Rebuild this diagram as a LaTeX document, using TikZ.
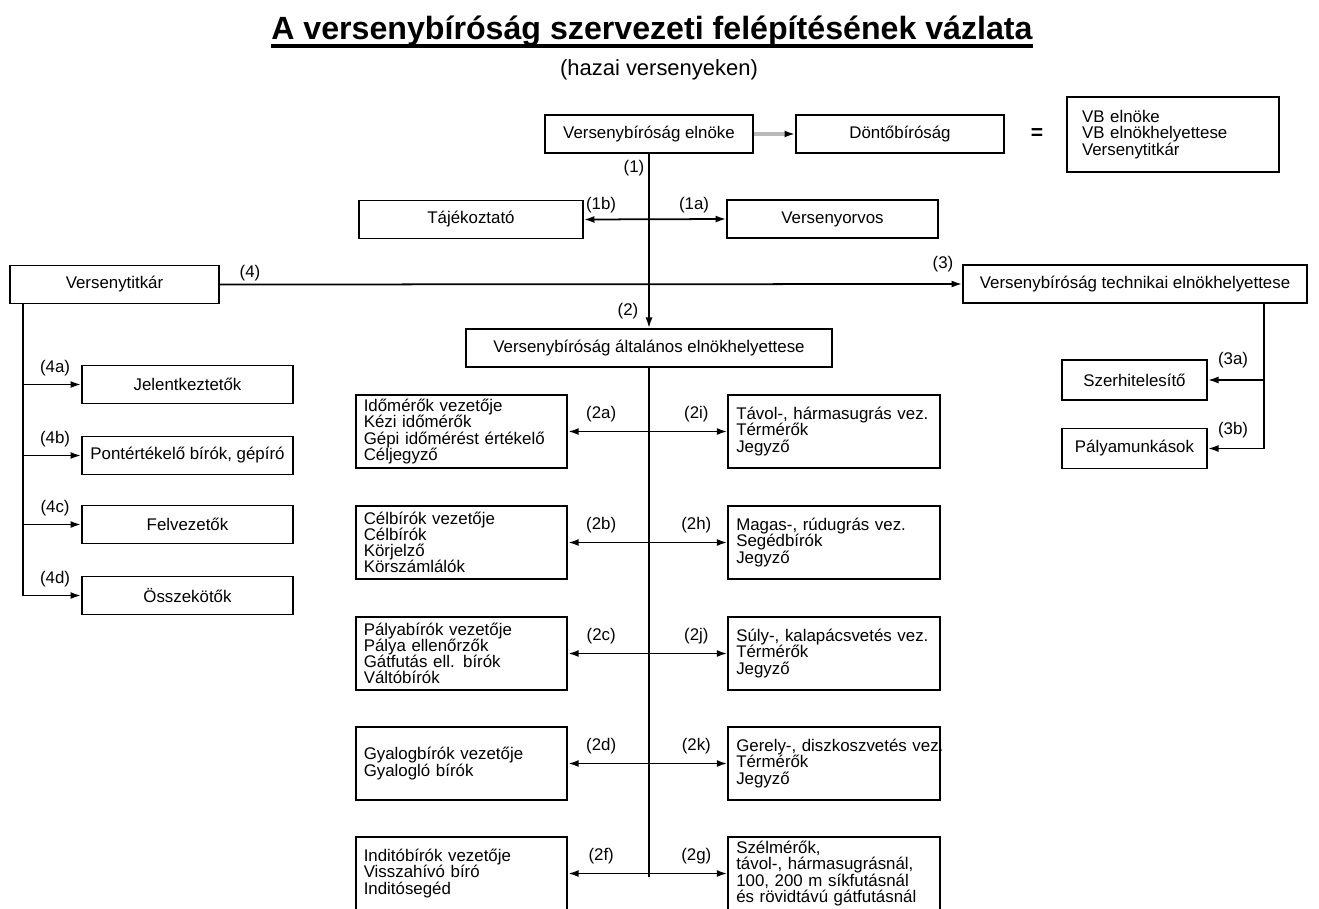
\documentclass[tikz,border=0pt]{standalone}
\usepackage{fontspec}
\setmainfont{Liberation Sans}
\usetikzlibrary{arrows.meta}

\newcommand{\boxfont}{\fontsize{9.6}{9.2}\selectfont}

\tikzset{
    box/.style={draw, line width=1.1pt, minimum height=0.76cm, inner sep=0pt, font=\boxfont},
    listbox/.style={draw, line width=1.1pt, minimum height=1.46cm, text width=3.91cm,
        inner xsep=0.16cm, inner ysep=0pt, align=left, font=\boxfont},
    lab/.style={font=\boxfont, inner sep=0pt},
    conn/.style={line width=1pt},
    arr/.style={conn, -{Latex[length=6pt,width=4pt]}},
    darr/.style={conn, {Latex[length=6pt,width=4pt]}-{Latex[length=6pt,width=4pt]}}
}

\begin{document}
\begin{tikzpicture}[x=0.02cm, y=-0.02cm]
            \useasboundingbox (0,0) rectangle (1319,909);

            % 标题
            \node[font=\fontsize{18.3}{20}\selectfont\bfseries, inner sep=0pt, anchor=base] (cim) at (652,40)
                {A versenybíróság szervezeti felépítésének vázlata};
            \draw[line width=1.8pt] ([yshift=-0.12cm]cim.base west) -- ([yshift=-0.12cm]cim.base east);
            \node[font=\fontsize{12.5}{14}\selectfont, inner sep=0pt, anchor=base] (alcim) at (659,76) {(hazai versenyeken)};

            % 顶层
            \node[box, minimum width=4.16cm] (elnok) at (649,134) {Versenybíróság elnöke};
            \node[box, minimum width=4.16cm] (donto) at (900,134) {Döntőbíróság};
            \node[font=\fontsize{12}{12}\selectfont\bfseries] (egyenlo) at (1037,134) {=};
            \node[box, align=left, text width=3.64cm, inner xsep=0.3cm, minimum height=1.5cm] (vb) at (1173,134.5)
                {VB elnöke\\VB elnökhelyettese\\Versenytitkár};

            % 第二层
            \node[box, minimum width=4.48cm] (tajek) at (471,219.5) {Tájékoztató};
            \node[box, minimum width=4.22cm] (orvos) at (832.5,219) {Versenyorvos};
            \node[box, minimum width=4.18cm] (titkar) at (114.5,284.5) {Versenytitkár};
            \node[box, minimum width=6.88cm] (techn) at (1135,284) {Versenybíróság technikai elnökhelyettese};
            \node[box, minimum width=7.32cm] (altal) at (649,348) {Versenybíróság általános elnökhelyettese};

            % 左侧 (4a)-(4d)
            \node[box, minimum width=4.22cm] (f4a) at (187.5,384.5) {Jelentkeztetők};
            \node[box, minimum width=4.22cm] (f4b) at (187.5,455.5) {Pontértékelő bírók, gépíró};
            \node[box, minimum width=4.22cm] (f4c) at (187.5,524.5) {Felvezetők};
            \node[box, minimum width=4.22cm] (f4d) at (187.5,595.5) {Összekötők};

            % 右侧 (3a)-(3b)
            \node[box, minimum width=2.9cm, minimum height=0.8cm] (szer) at (1134.5,380) {Szerhitelesítő};
            \node[box, minimum width=2.9cm, minimum height=0.8cm] (palya) at (1134.5,448.5) {Pályamunkások};

            % 中间两列
            \node[listbox] (ba) at (461.5,431.5) {Időmérők vezetője\\Kézi időmérők\\Gépi időmérést értékelő\\Céljegyző};
            \node[listbox] (bb) at (461.5,542.5) {Célbírók vezetője\\Célbírók\\Körjelző\\Körszámlálók};
            \node[listbox] (bc) at (461.5,653.5) {Pályabírók vezetője\\Pálya ellenőrzők\\Gátfutás ell. bírók\\Váltóbírók};
            \node[listbox] (bd) at (461.5,763.5) {Gyalogbírók vezetője\\Gyalogló bírók};
            \node[listbox] (bf) at (461.5,873.5) {Inditóbírók vezetője\\Visszahívó bíró\\Inditósegéd};
            \node[listbox] (bi) at (834,431.5) {\mbox{Távol-, hármasugrás vez.}\\Térmérők\\Jegyző};
            \node[listbox] (bh) at (834,542.5) {Magas-, rúdugrás vez.\\Segédbírók\\Jegyző};
            \node[listbox] (bj) at (834,653.5) {Súly-, kalapácsvetés vez.\\Térmérők\\Jegyző};
            \node[listbox] (bk) at (834,763.5) {\mbox{Gerely-, diszkoszvetés vez.}\\Térmérők\\Jegyző};
            \node[listbox] (bg) at (834,873.5) {Szélmérők,\\távol-, hármasugrásnál,\\100, 200 m síkfutásnál\\\mbox{és rövidtávú gátfutásnál}};

            % 连线
            \draw[line width=2pt, gray!55, -{Latex[length=6pt,width=4pt,color=black]}] (elnok.east) -- (donto.west);
            \draw[arr] (elnok.south) -- (altal.north);
            \draw[darr] (tajek.east) -- (orvos.west);
            \draw[arr] (titkar.east) -- (techn.west);
            \coordinate (torzsveg) at (649,877);
            \draw[conn] (altal.south) -- (torzsveg);
            \foreach \l/\r in {a/i,b/h,c/j,d/k,f/g} {
                \draw[darr] (b\l.east) -- (b\r.west);
                \node[lab] at ([xshift=0.66cm, yshift=0.34cm]b\l.east) {(2\l)};
                \node[lab] at ([xshift=-0.62cm, yshift=0.34cm]b\r.west) {(2\r)};
            }

            % 秘书分支
            \coordinate (tk) at ([xshift=0.28cm]titkar.south west);
            \draw[arr] (tk) |- (f4d.west);
            \foreach \n in {a,b,c} {
                \draw[arr] (tk |- f4\n.west) -- (f4\n.west);
            }
            \foreach \n in {a,b,c,d} {
                \node[lab] at ([xshift=-0.52cm, yshift=0.32cm]f4\n.west) {(4\n)};
            }

            % 技术副主席分支
            \coordinate (tc) at ([xshift=-0.88cm]techn.south east);
            \draw[arr] (tc) |- (palya.east);
            \draw[arr] (tc |- szer.east) -- (szer.east);

            % 编号
            \node[lab] (l1) at (634,168) {(1)};
            \node[lab] (l1b) at (601,205) {(1b)};
            \node[lab] (l1a) at (694,205) {(1a)};
            \node[lab] (l4) at (250,273) {(4)};
            \node[lab] (l3) at (943,264) {(3)};
            \node[lab] (l2) at (628,311) {(2)};
            \node[lab] (l3a) at (1233,360) {(3a)};
            \node[lab] (l3b) at (1233,430) {(3b)};

\end{tikzpicture}
\end{document}
